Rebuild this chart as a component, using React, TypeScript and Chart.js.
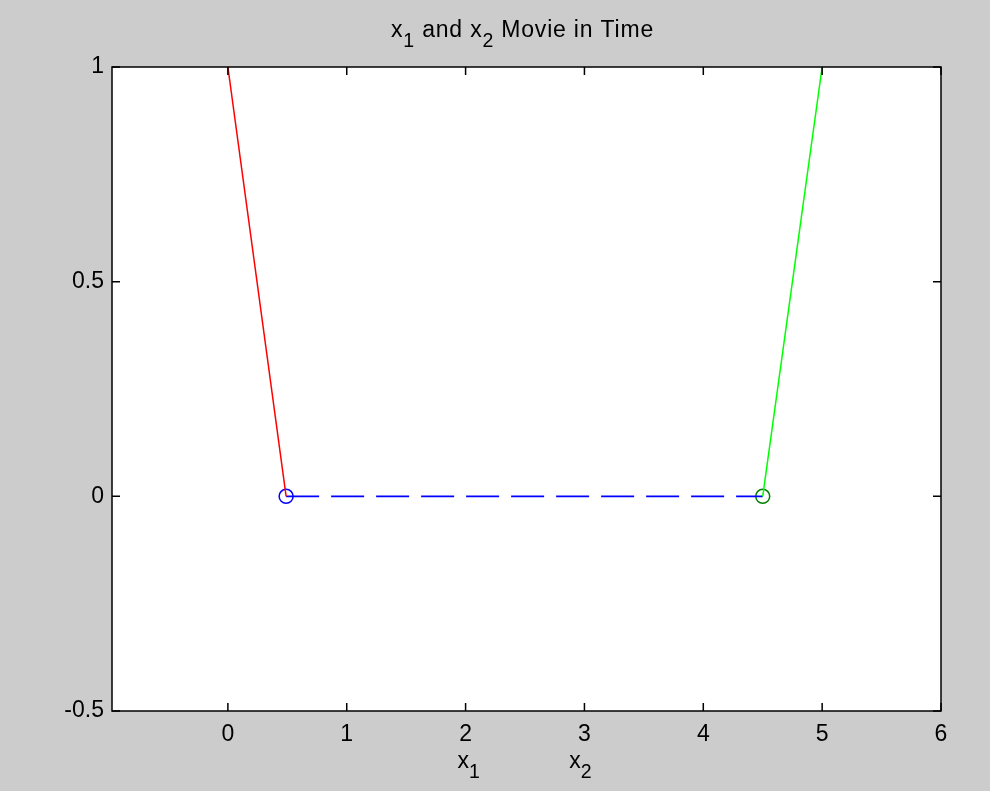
import React, { useEffect, useRef } from "react";
import { Chart, registerables } from "chart.js";
Chart.register(...registerables);

const x1Pos = 0.49;
const x2Pos = 4.5;
const redLine = [{ x: 0, y: 1 }, { x: x1Pos, y: 0 }];
const greenLine = [{ x: 5, y: 1 }, { x: x2Pos, y: 0 }];
const springLine = [{ x: x1Pos, y: 0 }, { x: x2Pos, y: 0 }];
const x1Marker = [{ x: x1Pos, y: 0 }];
const x2Marker = [{ x: x2Pos, y: 0 }];
const xTicks = [0, 1, 2, 3, 4, 5, 6];
const yTicks = [-0.5, 0, 0.5, 1];
const xRange = [-0.975, 6];
const yRange = [-0.5, 1];
const titleParts = [
  { text: "x" }, { text: "1", sub: true }, { text: " and x" }, { text: "2", sub: true }, { text: " Movie in Time" },
];
const xLabelParts = [
  { text: "x" }, { text: "1", sub: true }, { text: "              x" }, { text: "2", sub: true },
];

const FONT = "'Liberation Sans', Arial, sans-serif";
const FS = 23;

function drawRich(ctx: CanvasRenderingContext2D, parts: { text: string; sub?: boolean }[], cx: number, baseline: number, size: number, spacing: number) {
  const subSize = size * 0.85;
  (ctx as any).letterSpacing = `${spacing}px`;
  const widths = parts.map((p) => {
    ctx.font = `${p.sub ? subSize : size}px ${FONT}`;
    return ctx.measureText(p.text).width;
  });
  const total = widths.reduce((a, b) => a + b, 0);
  let x = cx - total / 2;
  ctx.textAlign = "left";
  ctx.textBaseline = "alphabetic";
  ctx.fillStyle = "#000";
  parts.forEach((p, i) => {
    ctx.font = `${p.sub ? subSize : size}px ${FONT}`;
    ctx.fillText(p.text, x, p.sub ? baseline + size * 0.42 : baseline);
    x += widths[i];
  });
  (ctx as any).letterSpacing = "0px";
}

const framePlugin = {
  id: "frame",
  beforeDatasetsDraw(chart: any) {
    const { ctx, chartArea: a } = chart;
    ctx.save();
    ctx.fillStyle = "#ffffff";
    ctx.fillRect(a.left, a.top, a.right - a.left, a.bottom - a.top);
    ctx.restore();
  },
  afterDraw(chart: any) {
    const { ctx, chartArea: a, scales } = chart;
    ctx.save();
    ctx.strokeStyle = "#000";
    ctx.lineWidth = 1.5;
    ctx.strokeRect(a.left, a.top, a.right - a.left, a.bottom - a.top);
    const tl = 8;
    ctx.beginPath();
    xTicks.forEach((v) => {
      const px = scales.x.getPixelForValue(v);
      ctx.moveTo(px, a.bottom); ctx.lineTo(px, a.bottom - tl);
      ctx.moveTo(px, a.top); ctx.lineTo(px, a.top + tl);
    });
    yTicks.forEach((v) => {
      const py = scales.y.getPixelForValue(v);
      ctx.moveTo(a.left, py); ctx.lineTo(a.left + tl, py);
      ctx.moveTo(a.right, py); ctx.lineTo(a.right - tl, py);
    });
    ctx.stroke();
    const cx = (a.left + a.right) / 2;
    drawRich(ctx, titleParts, cx - 4, a.top - 30, FS, 0.8);
    drawRich(ctx, xLabelParts, cx - 2, a.bottom + 57, FS, 0);
    ctx.restore();
  },
};

export default function App() {
  const ref = useRef<HTMLCanvasElement>(null);
  useEffect(() => {
    document.body.style.margin = "0";
    const chart = new Chart(ref.current!, {
      type: "scatter",
      data: {
        datasets: [
          { data: redLine, showLine: true, borderColor: "#ff0000", borderWidth: 1.5, pointRadius: 0 },
          { data: greenLine, showLine: true, borderColor: "#00ff00", borderWidth: 1.5, pointRadius: 0 },
          { data: springLine, showLine: true, borderColor: "#0000ff", borderWidth: 1.8, borderDash: [33, 12], pointRadius: 0 },
          { data: x1Marker, showLine: false, pointStyle: "circle", pointRadius: 7, pointBorderColor: "#0000ff", pointBackgroundColor: "rgba(0,0,0,0)", pointBorderWidth: 1.5, clip: false },
          { data: x2Marker, showLine: false, pointStyle: "circle", pointRadius: 7, pointBorderColor: "#008000", pointBackgroundColor: "rgba(0,0,0,0)", pointBorderWidth: 1.5, clip: false },
        ],
      } as any,
      options: {
        animation: false,
        responsive: false,
        maintainAspectRatio: false,
        layout: { padding: { left: 0, top: 67, right: 49, bottom: 0 } },
        plugins: { legend: { display: false }, tooltip: { enabled: false }, title: { display: false } },
        scales: {
          x: {
            type: "linear",
            min: xRange[0],
            max: xRange[1],
            grid: { display: false },
            border: { display: false },
            afterBuildTicks: (s: any) => { s.ticks = xTicks.map((v) => ({ value: v })); },
            afterFit: (s: any) => { s.height = 80; },
            ticks: { color: "#000", padding: 2, font: { family: FONT, size: FS }, maxRotation: 0, callback: (v: any) => String(v) },
          },
          y: {
            type: "linear",
            min: yRange[0],
            max: yRange[1],
            grid: { display: false },
            border: { display: false },
            afterBuildTicks: (s: any) => { s.ticks = yTicks.map((v) => ({ value: v })); },
            afterFit: (s: any) => { s.width = 112; },
            ticks: { color: "#000", padding: 0, font: { family: FONT, size: FS }, callback: (v: any) => String(v) },
          },
        },
      },
      plugins: [framePlugin],
    });
    return () => chart.destroy();
  }, []);
  return (
    <div style={{ position: "fixed", left: 0, top: 0, width: 990, height: 791, background: "#cccccc" }}>
      <canvas ref={ref} width={990} height={791} style={{ display: "block", width: 990, height: 791 }} />
    </div>
  );
}
